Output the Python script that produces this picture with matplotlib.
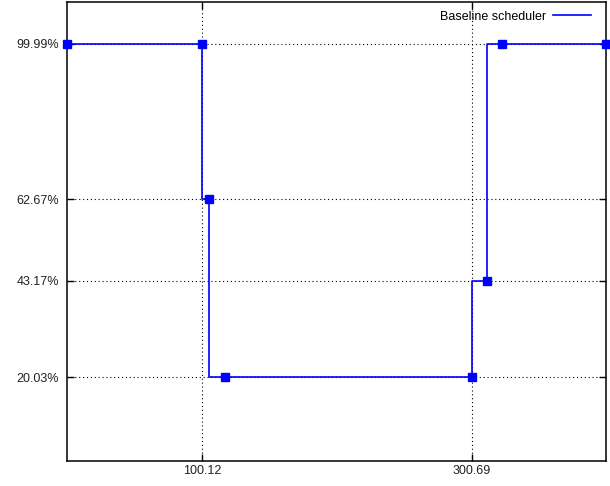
import matplotlib
matplotlib.use("Agg")
import matplotlib.pyplot as plt
from matplotlib.lines import Line2D

# data
x = [0, 100.12, 105.6, 117.5, 300.69, 311.6, 322.8, 400]
y = [99.99, 99.99, 62.67, 20.03, 20.03, 43.17, 99.99, 99.99]
xticks = [100.12, 300.69]
yticks = [20.03, 43.17, 62.67, 99.99]
series_label = "Baseline scheduler"

plt.rcParams['font.family'] = ['Liberation Sans', 'DejaVu Sans']

fig = plt.figure(figsize=(6.10, 4.86), dpi=100)
ax = fig.add_axes([67.3 / 610, 25 / 486, 538.2 / 610, 459 / 486])

ax.plot(x, y, color='#0000ff', lw=1.2, drawstyle='steps-pre', zorder=3)
ax.plot(x, y, color='#0000ff', lw=0, marker='s', markersize=5.5,
        clip_on=False, zorder=4)

ax.set_xlim(0, 400)
ax.set_ylim(0, 110)
ax.set_xticks(xticks)
ax.set_xticklabels([f"{v:.2f}" for v in xticks])
ax.set_yticks(yticks)
ax.set_yticklabels([f"{v:.2f}%" for v in yticks])

ax.grid(True, color='black', linestyle=(0, (1, 2.5)), linewidth=0.8)
ax.set_axisbelow(True)
ax.tick_params(direction='in', length=5, width=1, top=True, right=True,
               labelsize=9, labelcolor='#222222')
ax.tick_params(axis='x', pad=3)
ax.tick_params(axis='y', pad=5.8)
for s in ax.spines.values():
    s.set_linewidth(1.1)

handle = Line2D([], [], color='#0000ff', lw=1.2)
ax.legend([handle], [series_label], loc='upper right', frameon=False,
          markerfirst=False, fontsize=9, handlelength=3.0,
          handletextpad=0.6, borderaxespad=0.3,
          bbox_to_anchor=(1 - 6 / 538.2, 1))

fig.savefig("out.png", dpi=100)
